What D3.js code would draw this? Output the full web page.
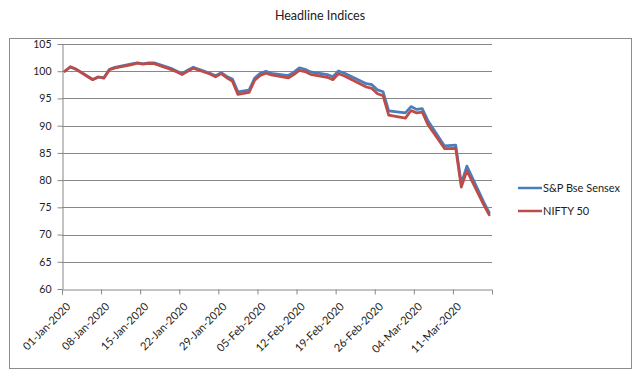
<!DOCTYPE html>
<html>
<head>
<meta charset="utf-8">
<script src="https://cdn.jsdelivr.net/npm/d3@7"></script>
<style>
  html, body { margin: 0; padding: 0; background: #fff; }
  svg { display: block; }
  text { font-family: Lato, "Open Sans", sans-serif; fill: #222; }
</style>
</head>
<body>
<svg id="chart" width="640" height="379"></svg>
<script>
const dates = ["2020-01-01","2020-01-02","2020-01-03","2020-01-06","2020-01-07","2020-01-08","2020-01-09","2020-01-10",
"2020-01-13","2020-01-14","2020-01-15","2020-01-16","2020-01-17","2020-01-20","2020-01-21","2020-01-22","2020-01-23","2020-01-24",
"2020-01-27","2020-01-28","2020-01-29","2020-01-30","2020-01-31","2020-02-01","2020-02-03","2020-02-04","2020-02-05","2020-02-06","2020-02-07",
"2020-02-10","2020-02-11","2020-02-12","2020-02-13","2020-02-14","2020-02-17","2020-02-18","2020-02-19","2020-02-20",
"2020-02-24","2020-02-25","2020-02-26","2020-02-27","2020-02-28","2020-03-02","2020-03-03","2020-03-04","2020-03-05","2020-03-06",
"2020-03-09","2020-03-11","2020-03-12","2020-03-13","2020-03-16","2020-03-17"];
const sensex = [100,100.78,100.38,98.48,98.94,98.82,100.35,100.71,
101.34,101.56,101.37,101.52,101.55,100.54,100.04,99.54,100.19,100.74,
99.63,99.18,99.74,99.05,98.59,96.20,96.53,98.75,99.60,100.0,99.60,
99.21,99.78,100.63,100.37,99.88,99.39,99.00,100.04,99.67,
97.72,97.52,96.57,96.22,92.72,92.34,93.51,92.99,93.13,90.97,
86.27,86.42,79.35,82.56,75.99,74.03];
const nifty = [100,100.82,100.36,98.44,98.94,98.71,100.27,100.61,
101.21,101.48,101.32,101.42,101.39,100.34,99.90,99.38,99.98,100.54,
99.48,98.96,99.57,98.80,98.19,95.73,96.10,98.34,99.23,99.63,99.31,
98.76,99.39,100.15,99.93,99.43,98.88,98.44,99.53,99.16,
97.10,96.84,95.86,95.49,91.95,91.38,92.78,92.35,92.50,90.21,
85.79,85.85,78.72,81.72,75.50,73.61];
const seriesNames = ["S&P Bse Sensex", "NIFTY 50"];
const tickLabels = ["01-Jan-2020","08-Jan-2020","15-Jan-2020","22-Jan-2020","29-Jan-2020","05-Feb-2020",
"12-Feb-2020","19-Feb-2020","26-Feb-2020","04-Mar-2020","11-Mar-2020"];
const yTicks = [60,65,70,75,80,85,90,95,100,105];
const chartTitle = "Headline Indices";

(function () {
const svg = d3.select("#chart");
const parse = d3.utcParse("%Y-%m-%d");

const pLeft = 62, pRight = 492, pTop = 44, pBottom = 289;
const start = parse(dates[0]);
const end = d3.utcDay.offset(parse(dates[dates.length - 1]), 1);

const x = d3.scaleUtc().domain([start, end]).range([pLeft, pRight]);
const y = d3.scaleLinear().domain([60, 105]).range([pBottom, pTop]);
const xc = d => x(d3.utcHour.offset(parse(d), 12));

// outer border
svg.append("rect").attr("x", 9.5).attr("y", 38.5).attr("width", 622).attr("height", 330)
  .attr("fill", "none").attr("stroke", "#8c8c8c").attr("stroke-width", 1);

// title
svg.append("text").attr("x", 320).attr("y", 20).attr("text-anchor", "middle")
  .style("font-size", "12.5px").text(chartTitle);

// gridlines
svg.append("g").selectAll("line").data(yTicks.filter(v => v > 60)).join("line")
  .attr("x1", pLeft).attr("x2", pRight)
  .attr("y1", d => Math.round(y(d)) + 0.5).attr("y2", d => Math.round(y(d)) + 0.5)
  .attr("stroke", "#888").attr("stroke-width", 1);

// y axis
const yAxis = svg.append("g").attr("transform", `translate(${pLeft + 0.5},0)`)
  .call(d3.axisLeft(y).tickValues(yTicks).tickSizeInner(5).tickSizeOuter(0).tickPadding(6));
yAxis.selectAll("text").style("font-size", "10.5px").attr("fill", "#222");
yAxis.selectAll("line, path").attr("stroke", "#888");

// x axis
const xAxis = svg.append("g").attr("transform", `translate(0,${Math.round(pBottom) + 0.5})`)
  .call(d3.axisBottom(x).tickValues(tickLabels.map(s => d3.utcParse("%d-%b-%Y")(s)))
    .tickFormat((d, i) => tickLabels[i]).tickSizeInner(5).tickSizeOuter(5));
xAxis.selectAll("line, path").attr("stroke", "#888");
xAxis.selectAll("text")
  .style("font-size", "11px").attr("fill", "#222")
  .attr("text-anchor", "end")
  .attr("transform", "translate(4,13) rotate(-45)")
  .attr("dy", "0.6em").attr("y", 0);

// lines
const line = vals => d3.line().x((d, i) => xc(dates[i])).y(d => y(d))(vals);
const colors = ["#4a7ebb", "#be4b48"];
[sensex, nifty].forEach((vals, k) => {
  svg.append("path").attr("d", line(vals)).attr("fill", "none")
    .attr("stroke", colors[k]).attr("stroke-width", 2.75)
    .attr("stroke-linejoin", "round").attr("stroke-linecap", "round");
});

// legend
const lg = svg.append("g");
seriesNames.forEach((n, k) => {
  const yy = 188 + k * 23;
  lg.append("line").attr("x1", 518).attr("x2", 542).attr("y1", yy).attr("y2", yy)
    .attr("stroke", colors[k]).attr("stroke-width", 2.5);
  lg.append("text").attr("x", 543).attr("y", yy + 4).style("font-size", "11px").text(n);
});
})();
</script>
</body>
</html>
